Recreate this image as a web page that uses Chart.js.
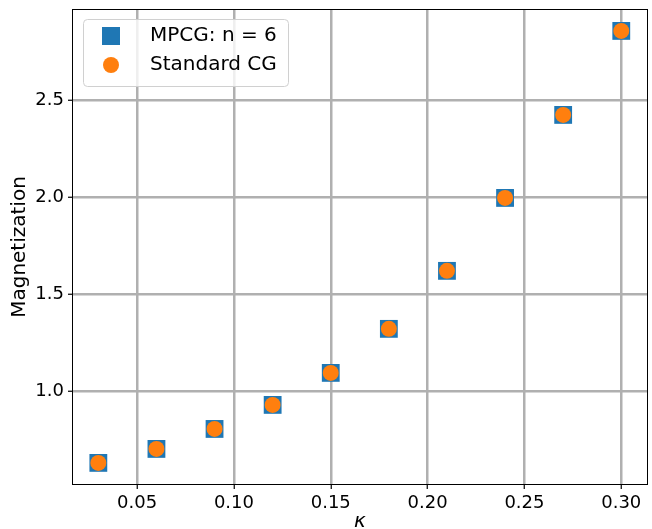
<!DOCTYPE html>
<html>
<head>
<meta charset="utf-8">
<script src="https://cdn.jsdelivr.net/npm/chart.js@4"></script>
<style>
  html, body { margin: 0; padding: 0; background: #fff; }
  #wrap { width: 652px; height: 529px; }
</style>
</head>
<body>
<div id="wrap"><canvas id="chart" width="652" height="529"></canvas></div>
<script>
const kappa = [0.03, 0.06, 0.09, 0.12, 0.15, 0.18, 0.21, 0.24, 0.27, 0.30];
const mpcg = [0.629, 0.701, 0.804, 0.928, 1.093, 1.320, 1.619, 1.995, 2.423, 2.856];
const standardCg = [0.629, 0.701, 0.804, 0.928, 1.093, 1.320, 1.619, 1.995, 2.423, 2.856];
const xTicks = [0.05, 0.10, 0.15, 0.20, 0.25, 0.30];
const yTicks = [1.0, 1.5, 2.0, 2.5];
const legendLabels = ['MPCG: n = 6', 'Standard CG'];

const BLUE = '#1f77b4';
const ORANGE = '#ff7f0e';
const FONT = 'DejaVu Sans';

const pts = (ys) => kappa.map((x, i) => ({ x, y: ys[i] }));

// cadre + légende façon matplotlib
const cadreLegende = {
  id: 'cadreLegende',
  afterDraw(chart) {
    const { ctx, chartArea: a } = chart;
    ctx.save();
    ctx.strokeStyle = '#000';
    ctx.lineWidth = 1;
    ctx.strokeRect(a.left + 0.5, a.top + 0.5, a.right - a.left - 1, a.bottom - a.top - 1);

    const bx = 83.5, by = 19.5, bw = 205, bh = 67;
    ctx.globalAlpha = 0.8;
    ctx.fillStyle = '#fff';
    ctx.beginPath();
    ctx.roundRect(bx, by, bw, bh, 4);
    ctx.fill();
    ctx.globalAlpha = 1;
    ctx.strokeStyle = '#d0d0d0';
    ctx.stroke();

    ctx.fillStyle = BLUE;
    ctx.fillRect(102, 27, 18, 18);
    ctx.fillStyle = ORANGE;
    ctx.beginPath();
    ctx.arc(111, 65, 8, 0, Math.PI * 2);
    ctx.fill();

    ctx.fillStyle = '#000';
    ctx.font = `20px "${FONT}"`;
    ctx.textBaseline = 'middle';
    ctx.fillText(legendLabels[0], 150, 36);
    ctx.fillText(legendLabels[1], 150, 65);
    ctx.restore();
  }
};

new Chart(document.getElementById('chart'), {
  type: 'scatter',
  data: {
    datasets: [
      {
        label: legendLabels[0],
        data: pts(mpcg),
        pointStyle: 'rect',
        pointRadius: 12.6,
        pointHoverRadius: 12.6,
        backgroundColor: BLUE,
        borderWidth: 0,
        order: 2
      },
      {
        label: legendLabels[1],
        data: pts(standardCg),
        pointStyle: 'circle',
        pointRadius: 8,
        pointHoverRadius: 8,
        backgroundColor: ORANGE,
        borderWidth: 0,
        order: 1
      }
    ]
  },
  options: {
    responsive: false,
    animation: false,
    devicePixelRatio: 1,
    layout: { autoPadding: false, padding: { left: 0, top: 9, right: 4, bottom: 0 } },
    plugins: {
      legend: { display: false },
      tooltip: { enabled: false }
    },
    scales: {
      x: {
        type: 'linear',
        min: 0.0164,
        max: 0.3138,
        afterBuildTicks: (s) => { s.ticks = xTicks.map(v => ({ value: v })); },
        afterFit: (s) => { s.height = 44; s.paddingLeft = 0; s.paddingRight = 0; },
        ticks: {
          color: '#000',
          font: { family: FONT, size: 18 },
          padding: 4,
          maxRotation: 0,
          callback: (v) => Number(v).toFixed(2)
        },
        grid: { color: '#b0b0b0', lineWidth: 2.5, tickColor: '#000', tickLength: 4, tickWidth: 1.2 },
        border: { display: false },
        title: { display: true, text: 'κ', color: '#000', font: { family: FONT, size: 20, style: 'italic' }, padding: { top: 0, bottom: -5 } }
      },
      y: {
        type: 'linear',
        min: 0.515,
        max: 2.969,
        afterBuildTicks: (s) => { s.ticks = yTicks.map(v => ({ value: v })); },
        afterFit: (s) => { s.width = 72; s.paddingTop = 0; s.paddingBottom = 0; },
        ticks: {
          color: '#000',
          font: { family: FONT, size: 18 },
          padding: 4,
          callback: (v) => Number(v).toFixed(1)
        },
        grid: { color: '#b0b0b0', lineWidth: 2.5, tickColor: '#000', tickLength: 4, tickWidth: 1.2 },
        border: { display: false },
        title: { display: true, text: 'Magnetization', color: '#000', font: { family: FONT, size: 20 }, padding: { top: 8, bottom: 0 } }
      }
    }
  },
  plugins: [cadreLegende]
});
</script>
</body>
</html>
